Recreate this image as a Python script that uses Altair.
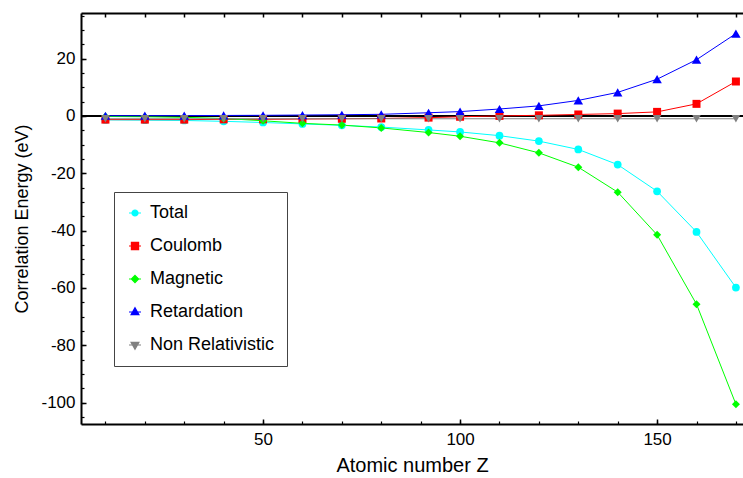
import altair as alt
import pandas as pd

FONT = "Liberation Sans"

Z = [10, 20, 30, 40, 50, 60, 70, 80, 92, 100, 110, 120, 130, 140, 150, 160, 170]
total = [-1.4, -1.5, -1.6, -1.9, -2.3, -2.8, -3.3, -3.9, -4.9, -5.6, -6.9, -8.8, -11.7, -17.0, -26.3, -40.5, -59.9]
coulomb = [-1.3, -1.3, -1.3, -1.2, -1.2, -1.1, -1.0, -0.9, -0.6, -0.3, 0.0, 0.2, 0.5, 0.8, 1.4, 4.2, 12.0]
magnetic = [-0.2, -0.3, -0.5, -0.9, -1.7, -2.6, -3.2, -4.2, -5.8, -7.1, -9.4, -12.9, -17.9, -26.6, -41.5, -65.7, -100.6]
retardation = [0.05, 0.07, 0.1, 0.15, 0.2, 0.3, 0.4, 0.55, 1.1, 1.5, 2.4, 3.5, 5.4, 8.2, 12.8, 19.6, 28.7]
nonrel = [-1.0, -1.0, -1.0, -1.0, -1.0, -1.0, -1.0, -1.0, -1.0, -1.0, -1.0, -1.0, -1.0, -1.0, -1.0, -1.0, -1.0]

names = ["Total", "Coulomb", "Magnetic", "Retardation", "Non Relativistic"]
colors = ["#00FFFF", "#FF0000", "#00FF00", "#0000FF", "#808080"]
shapes = ["circle", "square", "diamond", "triangle-up", "triangle-down"]
sizes = [60, 64, 64, 90, 72]
legend_paths = [
    "M-1,0H1M0.5,0A0.5,0.5,0,1,1,-0.5,0A0.5,0.5,0,1,1,0.5,0Z",
    "M-1,0H1M-0.6,-0.6H0.6V0.6H-0.6Z",
    "M-1,0H1M0,-0.6L0.6,0L0,0.6L-0.6,0Z",
    "M-1,0H1M0,-0.7L0.65,0.45L-0.65,0.45Z",
    "M-1,0H1M0,0.7L0.65,-0.45L-0.65,-0.45Z",
]

x_minor = [10, 20, 30, 40, 50, 60, 70, 80, 90, 100, 110, 120, 130, 140, 150, 160, 170]
x_major = [50, 100, 150]
y_major = [-100, -80, -60, -40, -20, 0, 20]
y_minor = [-105, -100, -95, -90, -85, -80, -75, -70, -65, -60, -55, -50, -45, -40, -35,
           -30, -25, -20, -15, -10, -5, 0, 5, 10, 15, 20, 25, 30, 35]

rows = []
for k, (name, vals) in enumerate(zip(names, [total, coulomb, magnetic, retardation, nonrel])):
    for z, v in zip(Z, vals):
        rows.append({"Z": z, "E": v, "series": name, "k": k})
df = pd.DataFrame(rows)

xscale = alt.Scale(domain=[3.8, 171.8], nice=False, zero=False)
yscale = alt.Scale(domain=[-107.5, 35.9], nice=False, zero=False)

x_axis_major = alt.Axis(
    orient="bottom", values=x_major, tickSize={"expr": "-5"}, tickColor="black", tickWidth=1.5,
    domainColor="black", domainWidth=2, labelFont=FONT, labelFontSize=17, labelColor="black",
    labelPadding=12, title="Atomic number Z", titleFont=FONT, titleFontSize=20,
    titleFontWeight="normal", titleColor="black", titlePadding=8, grid=False,
)
x_axis_minor = alt.Axis(
    orient="bottom", values=x_minor, tickSize={"expr": "-3"}, tickColor="black", tickWidth=1.2,
    domain=False, labels=False, grid=False,
)
x_axis_top = alt.Axis(
    orient="top", values=x_minor, tickSize={"expr": "-4"}, tickColor="black", tickWidth=1.5,
    domainColor="black", domainWidth=2, labels=False, grid=False,
)
y_axis_major = alt.Axis(
    orient="left", values=y_major, tickSize={"expr": "-5"}, tickColor="black", tickWidth=1.5,
    domainColor="black", domainWidth=2, labelFont=FONT, labelFontSize=17, labelColor="black",
    labelPadding=11, labelExpr="'' + datum.value", title="Correlation Energy (eV)",
    titleFont=FONT, titleFontSize=18, titleFontWeight="normal", titleColor="black",
    titlePadding=9, grid=False,
)
y_axis_minor = alt.Axis(
    orient="left", values=y_minor, tickSize={"expr": "-3"}, tickColor="black", tickWidth=1.2,
    domain=False, labels=False, grid=False,
)

base = alt.Chart(df)

zero_rule = alt.Chart(df).mark_rule(color="black", strokeWidth=1).encode(
    y=alt.Y(datum=0, scale=yscale, axis=None)
)

line_layers = []
point_layers = []
for i, name in enumerate(names):
    sub = base.transform_filter(alt.datum.series == name)
    if i == 0:
        lx = alt.X("Z:Q", scale=xscale, axis=x_axis_major)
        ly = alt.Y("E:Q", scale=yscale, axis=y_axis_major)
        px = alt.X("Z:Q", scale=xscale, axis=x_axis_minor, title=None)
        py = alt.Y("E:Q", scale=yscale, axis=y_axis_minor, title=None)
    else:
        lx = alt.X("Z:Q", scale=xscale, axis=None)
        ly = alt.Y("E:Q", scale=yscale, axis=None)
        px = alt.X("Z:Q", scale=xscale, axis=None)
        py = alt.Y("E:Q", scale=yscale, axis=None)
    line_layers.append(sub.mark_line(strokeWidth=1, color=colors[i]).encode(x=lx, y=ly))
    point_layers.append(
        sub.mark_point(filled=True, opacity=1, shape=shapes[i], size=sizes[i], color=colors[i])
        .encode(x=px, y=py)
    )

leg = alt.Legend(
    title=None, orient="none", legendX=33, legendY=179, direction="vertical",
    fillColor="white", strokeColor="#444444", padding=12, rowPadding=15,
    symbolSize=144, symbolStrokeWidth=1.2, symbolOpacity=1,
    labelFont=FONT, labelFontSize=18, labelColor="black", labelOffset=6, labelLimit=300,
)

legend_layer = base.mark_point(filled=True).encode(
    x=alt.X("Z:Q", scale=xscale, axis=x_axis_top, title=None),
    y=alt.Y("E:Q", scale=yscale, axis=None),
    fill=alt.Fill("series:N", scale=alt.Scale(domain=names, range=colors), legend=leg),
    stroke=alt.Stroke("series:N", scale=alt.Scale(domain=names, range=colors), legend=leg),
    shape=alt.Shape("series:N", scale=alt.Scale(domain=names, range=legend_paths), legend=leg),
).transform_filter("datum.Z > 1000")

chart = (
    alt.layer(zero_rule, *line_layers, *point_layers, legend_layer)
    .resolve_axis(x="independent", y="independent")
    .properties(
        width=662, height=411,
        padding={"left": 81, "top": 13, "right": 0, "bottom": 54},
        autosize=alt.AutoSizeParams(type="none"),
        background="white",
    )
    .configure_view(stroke=None)
    .configure(font=FONT)
)

chart.save("out.html", embed_options={"renderer": "svg", "actions": False})
